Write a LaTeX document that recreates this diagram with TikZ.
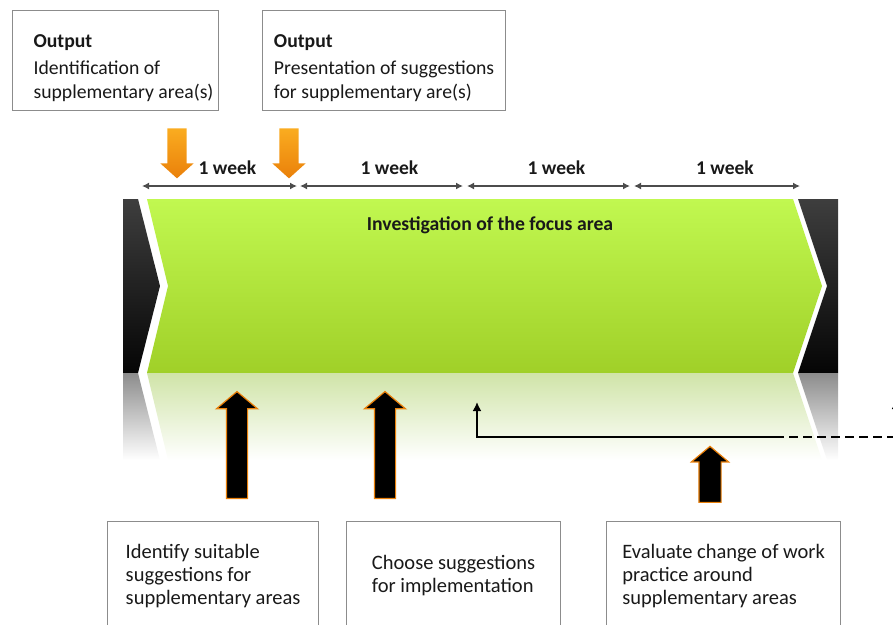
\documentclass[tikz,border=0pt]{standalone}
\usepackage{fontspec}
\setmainfont{Carlito}
\usetikzlibrary{arrows.meta}
\usetikzlibrary{positioning}
\usetikzlibrary{shapes.arrows}
\definecolor{bandtop}{RGB}{193,248,80}
\definecolor{bandbottom}{RGB}{160,208,40}
\definecolor{darktop}{RGB}{62,62,62}
\definecolor{darkbottom}{RGB}{5,5,5}
\definecolor{reflgreen}{RGB}{208,228,168}
\definecolor{reflgray}{RGB}{140,140,140}
\definecolor{glowtop}{RGB}{250,172,32}
\definecolor{glowbottom}{RGB}{234,128,10}
\definecolor{boxgray}{RGB}{140,140,140}
\definecolor{inktext}{RGB}{25,25,25}
\tikzset{
  textbox/.style={draw=boxgray, line width=1.2pt, fill=white, align=flush left,
    text=inktext, anchor=north west},
  outbox/.style={textbox, font=\fontsize{19.7}{24}\selectfont, minimum height=100pt},
  taskbox/.style={textbox, font=\fontsize{20.5}{23}\selectfont, minimum height=108pt},
  weekarrow/.style={draw=black!70, line width=1.5pt,
    {Latex[length=7pt,width=7pt]}-{Latex[length=7pt,width=7pt]}},
  weeklabel/.style={above=11pt, xshift=8pt, inner sep=0pt, text=inktext,
    font=\bfseries\fontsize{19.5}{21}\selectfont},
  outarrow/.style={single arrow, shape border rotate=270, inner sep=9.5pt,
    single arrow tip angle=96, single arrow head extend=7pt,
    top color=glowtop, bottom color=glowbottom, draw=none},
  taskarrow/.style={single arrow, shape border rotate=90,
    single arrow tip angle=100, fill=black, draw=glowbottom, line width=1.2pt},
  fbline/.style={line width=2.4pt}
}

\begin{document}
\begin{tikzpicture}[x=1pt, y=-1pt]
  \useasboundingbox (0,0) rectangle (893,624);

  % outputs
  \node [outbox, text width=164pt, inner xsep=21pt] (outa) at (12,10)
    {\rule{0pt}{28pt}\textbf{Output}\\[3pt] Identification of\\ \mbox{supplementary area(s)}};
  \node [outbox, minimum width=243pt] (outb) at (262,10)
    {\rule{0pt}{28pt}\textbf{Output}\\[3pt] Presentation of suggestions\\ for supplementary are(s)};

  \node [outarrow, minimum height=50pt, minimum width=33pt] (outarra) at (177,149) {};
  \node [outarrow, minimum height=50pt, minimum width=33pt] (outarrb) at (289,149) {};

  % weeks
  \coordinate (wa0) at (142,186); \coordinate (wa1) at (297,186);
  \coordinate (wb0) at (300,186); \coordinate (wb1) at (463,186);
  \coordinate (wc0) at (467,186); \coordinate (wc1) at (630,186);
  \coordinate (wd0) at (634,186); \coordinate (wd1) at (800,186);
  \draw [weekarrow] (wa0) -- node [weeklabel] (weeka) {1 week} (wa1);
  \draw [weekarrow] (wb0) -- node [weeklabel] (weekb) {1 week} (wb1);
  \draw [weekarrow] (wc0) -- node [weeklabel] (weekc) {1 week} (wc1);
  \draw [weekarrow] (wd0) -- node [weeklabel] (weekd) {1 week} (wd1);

  % band and its reflection
  \shade [top color=darktop, bottom color=darkbottom]
    (123,199) -- (138,199) -- (160,286) -- (138,373) -- (123,373) -- cycle;
  \shade [top color=darktop, bottom color=darkbottom, rounded corners=4pt]
    (798,199) [sharp corners] -- (838,199) -- (838,373) [sharp corners] -- (798,373) -- (827,286) -- cycle;
  \shade [top color=bandtop, bottom color=bandbottom]
    (147,199) -- (793,199) -- (822,286) -- (793,373) -- (147,373) -- (168,286) -- cycle;
  \shade [top color=reflgray, bottom color=white]
    (123,373) -- (138,373) -- (160,460) -- (123,460) -- cycle;
  \shade [top color=reflgray, bottom color=white]
    (798,373) -- (838,373) -- (838,460) -- (827,460) -- cycle;
  \shade [top color=reflgreen, bottom color=white]
    (147,373) -- (793,373) -- (822,460) -- (168,460) -- cycle;

  \node [text=inktext, font=\bfseries\fontsize{19.7}{21}\selectfont] (focus) at (490,225)
    {Investigation of the focus area};

  % feedback
  \coordinate (fbtip) at (477,402);
  \coordinate (fbcorner) at (477,437);
  \coordinate (fbdash) at (775,437);
  \coordinate (fbedge) at (896,437);
  \coordinate (fbedgetip) at (896,400);
  \draw [fbline, -{Latex[length=9pt,width=9pt]}] (fbdash) -- (fbcorner) -- (fbtip);
  \draw [fbline, dashed, dash pattern=on 9pt off 5pt] (fbdash) -- (fbedge);
  \draw [fbline, -{Latex[length=9pt,width=9pt]}] (fbedge) -- (fbedgetip);

  % tasks
  \node [taskarrow, inner sep=10pt, single arrow head extend=10pt,
    minimum height=107pt, minimum width=40pt] (taskarra) at (237,449.5) {};
  \node [taskarrow, inner sep=10pt, single arrow head extend=10pt,
    minimum height=107pt, minimum width=40pt] (taskarrb) at (385,449.5) {};
  \node [taskarrow, inner sep=10.5pt, single arrow head extend=7.5pt,
    minimum height=56pt, minimum width=36pt] (taskarrc) at (710,479) {};

  \node [taskbox, minimum width=211pt] (taska) at (107,521)
    {Identify suitable\\ suggestions for\\ supplementary areas};
  \node [taskbox, minimum width=214pt] (taskb) at (346,521)
    {Choose suggestions\\ for implementation};
  \node [taskbox, minimum width=234pt] (taskc) at (606,521)
    {Evaluate change of work\\ practice around\\ supplementary areas};
\end{tikzpicture}
\end{document}
